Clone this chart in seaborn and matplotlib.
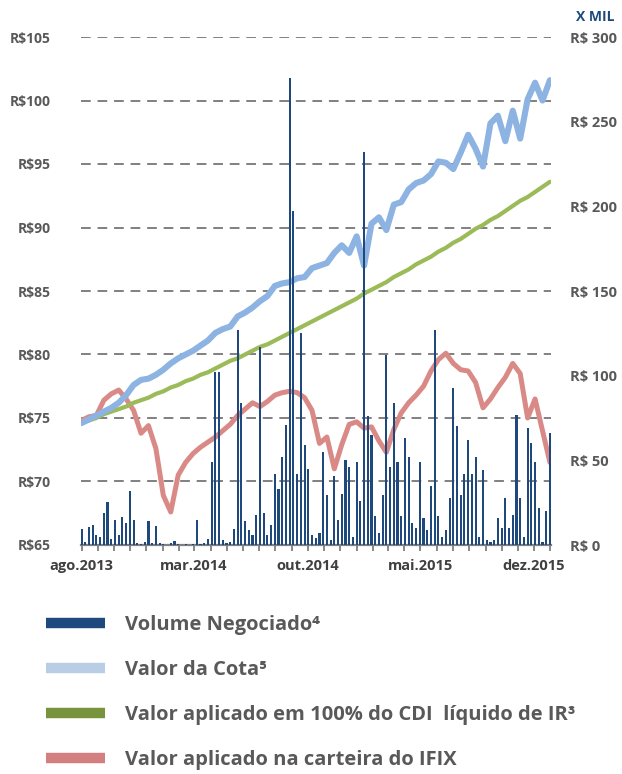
import numpy as np
import pandas as pd
import matplotlib
matplotlib.use("Agg")
import matplotlib.pyplot as plt
import matplotlib.dates as mdates
from matplotlib.lines import Line2D
import seaborn as sns

# ---------------- data ----------------
line_start = "2013-08-01"
n_line = 64          # one point every 14 days
bar_start = "2013-08-01"
n_bar = 127          # one bar every 7 days

valor_cota = [74.6, 74.9, 75.2, 75.5, 75.8, 76.2, 76.8, 77.6, 78.0, 78.1,
              78.4, 78.8, 79.3, 79.7, 80.0, 80.3, 80.7, 81.1, 81.7, 82.0,
              82.2, 83.0, 83.3, 83.7, 84.2, 84.6, 85.4, 85.6, 85.7, 86.0,
              86.1, 86.8, 87.0, 87.2, 88.0, 88.6, 88.0, 89.3, 87.0, 90.3,
              90.8, 89.8, 91.8, 92.0, 93.0, 93.5, 93.7, 94.2, 95.2, 95.1,
              94.6, 95.9, 97.3, 96.2, 94.8, 98.2, 98.8, 96.8, 99.2, 97.0,
              100.1, 101.4, 100.0, 101.6]

cdi_liquido = [74.6, 74.8, 75.0, 75.3, 75.5, 75.7, 75.9, 76.2, 76.4, 76.6,
               76.9, 77.1, 77.4, 77.6, 77.9, 78.1, 78.4, 78.6, 78.9, 79.2,
               79.5, 79.7, 80.0, 80.3, 80.6, 80.8, 81.1, 81.4, 81.7, 82.0,
               82.3, 82.6, 82.9, 83.2, 83.5, 83.8, 84.1, 84.4, 84.8, 85.1,
               85.4, 85.7, 86.1, 86.4, 86.7, 87.1, 87.4, 87.7, 88.1, 88.4,
               88.8, 89.1, 89.5, 89.9, 90.2, 90.6, 90.9, 91.3, 91.7, 92.1,
               92.4, 92.8, 93.2, 93.6]

ifix = [74.8, 75.1, 75.2, 76.4, 76.9, 77.2, 76.5, 75.6, 73.8, 74.4,
        72.6, 68.9, 67.6, 70.5, 71.5, 72.2, 72.7, 73.1, 73.5, 74.0,
        74.5, 75.2, 75.7, 76.2, 75.9, 76.3, 76.8, 77.0, 77.1, 77.0,
        76.6, 75.6, 73.0, 73.5, 71.0, 72.9, 74.5, 74.7, 74.2, 74.3,
        73.2, 72.3, 74.1, 75.4, 76.2, 76.8, 77.5, 78.7, 79.6, 80.1,
        79.3, 78.8, 78.7, 77.8, 75.8, 76.5, 77.4, 78.2, 79.3, 78.5,
        75.0, 76.5, 74.0, 71.5]

volume = [9.5, 2, 10.6, 11.8, 5.9, 4.7, 18.9, 25.4, 3.5, 14.8,
          5.9, 16.5, 13, 31.9, 14.8, 1, 0.5, 2, 14.2, 1,
          11, 1, 0.5, 0, 1, 2.4, 0.5, 0, 0.5, 0,
          0.5, 14.8, 0.5, 1, 3.5, 49, 102, 102, 3, 1,
          2, 9.5, 127, 84, 14, 9, 6, 18, 117, 19,
          6, 12, 42, 33, 52, 71, 276, 197, 42, 125,
          59, 45, 6, 4, 7, 55, 29.5, 3, 41, 15,
          30, 50, 46, 5, 49, 26, 232, 76, 65, 17,
          7, 29.5, 112, 46, 84, 49, 17, 63, 52, 13,
          10, 49, 16, 9, 35, 127, 17, 5, 9, 28,
          93, 70, 29.5, 42, 62, 42, 52, 5, 44, 3,
          2, 3, 16, 10, 28, 10, 18, 77, 28, 5,
          69, 60, 49, 22, 2, 20, 66]

left_ticks = [65, 70, 75, 80, 85, 90, 95, 100, 105]
left_labels = ["R$65", "R$70", "R$75", "R$80", "R$85", "R$90", "R$95", "R$100", "R$105"]
right_ticks = [0, 50, 100, 150, 200, 250, 300]
right_labels = ["R$ 0", "R$ 50", "R$ 100", "R$ 150", "R$ 200", "R$ 250", "R$ 300"]
x_tick_dates = ["2013-08-01", "2014-03-01", "2014-10-01", "2015-05-01", "2015-12-01"]
x_tick_labels = ["ago.2013", "mar.2014", "out.2014", "mai.2015", "dez.2015"]

legend_labels = ["Volume Negociado\u2074", "Valor da Cota\u2075",
                 "Valor aplicado em 100% do CDI  líquido de IR\u00b3",
                 "Valor aplicado na carteira do IFIX"]

# ---------------- styling ----------------
sns.set_theme(style="white")
plt.rcParams["font.family"] = ["Open Sans", "DejaVu Sans"]

c_bar = "#1F497D"
c_cota = "#8DB3E2"
c_cdi = "#9BBB59"
c_ifix = "#D98A87"
c_grid = "#808080"
c_text = "#595959"

line_dates = pd.date_range(line_start, periods=n_line, freq="14D")
bar_dates = pd.date_range(bar_start, periods=n_bar, freq="7D")
df = pd.DataFrame({"date": line_dates, "cota": valor_cota,
                   "cdi": cdi_liquido, "ifix": ifix})

fig = plt.figure(figsize=(6.22, 7.74), dpi=100)
ax = fig.add_axes([81 / 622, 1 - 545 / 774, (551 - 81) / 622, (545 - 37) / 774])

for y in left_ticks[1:]:
    ax.axhline(y, color=c_grid, lw=1.4, ls=(0, (5, 3.5)), zorder=0)

sns.lineplot(data=df, x="date", y="ifix", ax=ax, color=c_ifix, lw=3.6, zorder=3)
sns.lineplot(data=df, x="date", y="cdi", ax=ax, color=c_cdi, lw=3.0, zorder=4)
sns.lineplot(data=df, x="date", y="cota", ax=ax, color=c_cota, lw=4.4, zorder=5)

ax.set_ylim(65, 105)
ax.set_yticks(left_ticks)
ax.set_yticklabels(left_labels, fontsize=10, color=c_text, fontweight="bold")
ax.tick_params(axis="y", length=0, pad=22)
ax.set_xlabel("")
ax.set_ylabel("")

ax2 = ax.twinx()
ax2.bar(bar_dates, volume, width=4.0, color=c_bar, linewidth=0, zorder=6)
ax2.set_ylim(0, 300)
ax2.set_yticks(right_ticks)
ax2.set_yticklabels(right_labels, fontsize=10.5, color=c_text, fontweight="bold")
ax2.tick_params(axis="y", length=0, pad=14)

xmin = pd.Timestamp("2013-07-31")
xmax = pd.Timestamp("2016-01-02")
ax.set_xlim(xmin, xmax)
ax2.set_xlim(xmin, xmax)
ax.set_xticks(pd.to_datetime(x_tick_dates))
ax.set_xticklabels(x_tick_labels, fontsize=10.5, color="#404040", fontweight="bold")
ax.xaxis.set_minor_locator(mdates.MonthLocator())
ax.tick_params(axis="x", which="both", direction="out", length=4, width=1.3,
               color=c_grid, pad=6, bottom=True)

for a in (ax, ax2):
    for s in ("top", "right", "left", "bottom"):
        a.spines[s].set_visible(False)
ax.spines["bottom"].set_visible(True)
ax.spines["bottom"].set_color(c_grid)
ax.spines["bottom"].set_linewidth(1.6)
ax.grid(False)
ax2.grid(False)

fig.text(615 / 622, 1 - 17 / 774, "X MIL", ha="right", va="center",
         fontsize=10, color=c_bar, fontweight="bold")

handles = [Line2D([], [], color=c, lw=7.5, solid_capstyle="butt")
           for c in ["#1F497D", "#B9CDE5", "#77933C", "#D47F7F"]]
fig.legend(handles, legend_labels, loc="upper left",
           bbox_to_anchor=(46 / 622, 1 - 615 / 774), frameon=False,
           handlelength=2.95, handletextpad=0.95, labelspacing=1.24,
           borderpad=0, borderaxespad=0,
           prop={"size": 14.5, "weight": "bold"}, labelcolor=c_text)

fig.savefig("out.png", dpi=100)
